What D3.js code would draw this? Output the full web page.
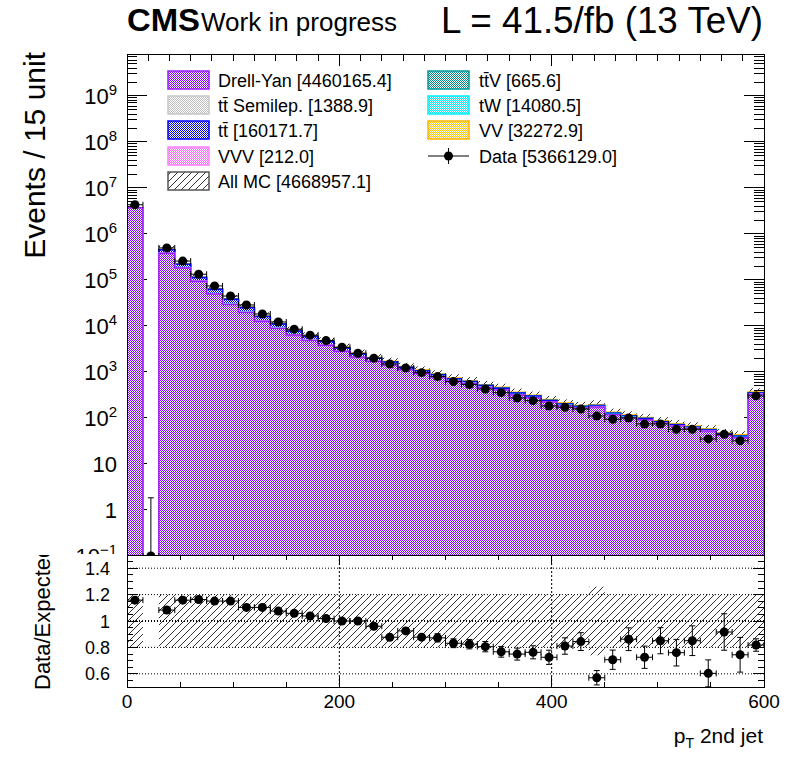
<!DOCTYPE html>
<html>
<head>
<meta charset="utf-8">
<script src="https://cdn.jsdelivr.net/npm/d3@7"></script>
<style>
body { margin: 0; background: #fff; }
text { font-family: "Liberation Sans", Arial, sans-serif; fill: #000; }
</style>
</head>
<body>
<svg id="chart" width="796" height="772"></svg>
<script>
// bin width 15, 40 bins from 0 to 600
var binWidth = 15;

// observed events per bin
var dataCounts = [4300000, 0, 496000, 257000, 133000, 74000, 44660, 28570, 18200, 12200,
  8496, 6301, 4800, 3440, 2550, 1981, 1490, 1220, 966, 792,
  617, 531, 427, 355, 272, 238, 182, 171, 157, 110,
  94, 100, 74, 74, 57, 57, 35, 44, 32, 301];
// upper poisson error for empty bins
var zeroUpErr = 1.84;

// MC yields per process per bin
var dyYield = [3691250, 0, 379490, 182185, 93382, 49741, 29129, 19555, 12617, 8792,
  6314, 4853, 3820, 2820, 2105, 1715, 1422, 1112, 938, 775,
  637, 559, 459, 404, 317, 274, 221, 185, 165, 174,
  118, 101, 91, 78, 67, 59, 52, 42, 37, 328];
var vvvYield = [30, 0, 40, 25, 18, 14, 11, 9, 7, 6,
  5, 4, 3, 3, 2, 2, 2, 1, 1, 1,
  1, 0, 0, 0, 0, 0, 0, 0, 0, 0,
  0, 0, 0, 0, 0, 0, 0, 0, 0, 2];
var ttSemiYield = [200, 0, 350, 200, 130, 90, 65, 48, 36, 27,
  21, 16, 13, 10, 8, 6, 5, 4, 3, 3,
  2, 2, 2, 1, 1, 1, 1, 1, 1, 1,
  0, 0, 0, 0, 0, 0, 0, 0, 0, 3];
var twYield = [1500, 0, 6000, 3000, 1800, 1100, 700, 450, 290, 200,
  140, 100, 75, 55, 40, 32, 26, 20, 16, 13,
  10, 8, 7, 6, 5, 4, 3, 3, 2, 2,
  2, 4, 1, 1, 1, 1, 1, 1, 1, 3];
var ttYield = [6000, 0, 65000, 33000, 17000, 12000, 8000, 5200, 3100, 2000,
  1300, 900, 650, 430, 300, 230, 180, 130, 100, 80,
  62, 50, 40, 33, 25, 20, 15, 12, 10, 9,
  7, 6, 5, 4, 3, 3, 2, 2, 2, 12];
var ttvYield = [20, 0, 120, 90, 70, 55, 45, 38, 30, 25,
  20, 17, 14, 12, 10, 8, 7, 6, 5, 4,
  4, 3, 3, 3, 2, 2, 2, 2, 1, 1,
  1, 1, 1, 1, 1, 1, 1, 1, 1, 6];
var vvYield = [14000, 0, 7000, 3500, 2000, 1300, 850, 600, 420, 300,
  230, 180, 140, 110, 85, 70, 57, 46, 38, 32,
  26, 22, 19, 16, 13, 11, 9, 8, 7, 6,
  5, 4, 4, 3, 3, 3, 2, 2, 2, 14];

// relative MC uncertainty per bin
var mcRelUnc = [0.2, 0.2, 0.2, 0.2, 0.2, 0.2, 0.2, 0.2, 0.2, 0.2,
  0.2, 0.2, 0.2, 0.2, 0.2, 0.2, 0.2, 0.2, 0.2, 0.2,
  0.2, 0.2, 0.2, 0.2, 0.2, 0.2, 0.2, 0.2, 0.2, 0.26,
  0.2, 0.2, 0.2, 0.2, 0.2, 0.2, 0.2, 0.2, 0.2, 0.2];

var legendLabels = ["Drell-Yan [4460165.4]", "tt\u0304 Semilep. [1388.9]", "tt\u0304 [160171.7]", "VVV [212.0]", "All MC [4668957.1]",
  "tt\u0304V [665.6]", "tW [14080.5]", "VV [32272.9]", "Data [5366129.0]"];
var xTickLabels = [0, 200, 400, 600];
var ratioTickLabels = [0.6, 0.8, 1, 1.2, 1.4];
var mainDecades = [-1, 0, 1, 2, 3, 4, 5, 6, 7, 8, 9];

// stack, bottom -> top
var stack = [
  {key: 'dy', vals: dyYield, fill: '#8c00ff', line: '#9a1cff'},
  {key: 'vvv', vals: vvvYield, fill: '#ff66ff', line: '#ff80ff'},
  {key: 'ttsemi', vals: ttSemiYield, fill: '#bdbdbd', line: '#c8c8c8'},
  {key: 'tw', vals: twYield, fill: '#00e8ff', line: '#00f0ff'},
  {key: 'tt', vals: ttYield, fill: '#0000e0', line: '#0000ff'},
  {key: 'ttv', vals: ttvYield, fill: '#008c8c', line: '#009a9a'},
  {key: 'vv', vals: vvYield, fill: '#ffc000', line: '#ffb400'}
];

var L = 127, R = 764, mainTop = 54, mainBot = 555, ratTop = 555, ratBot = 687;

var x = d3.scaleLinear().domain([0, 600]).range([L, R]);
var yMain = d3.scaleLog().domain([0.1, Math.pow(10, 9.91)]).range([556, mainTop]);
var yRat = d3.scaleLinear().domain([0.5, 1.5]).range([ratBot, ratTop]);
function ym(v) { return v <= 0.1 ? 560 : yMain(v); }

var bins = dataCounts.map(function(d, i) {
  var cum = 0, tops = [];
  stack.forEach(function(s) { cum += s.vals[i]; tops.push(cum); });
  return {i: i, lo: i * binWidth, hi: (i + 1) * binWidth, data: d, tops: tops, mc: cum, unc: mcRelUnc[i]};
});

var svg = d3.select('#chart');
var defs = svg.append('defs');

// 1px checker like root fill style 3xxx
function checker(id, color) {
  var p = defs.append('pattern').attr('id', id).attr('width', 2).attr('height', 2)
    .attr('patternUnits', 'userSpaceOnUse');
  p.append('rect').attr('width', 2).attr('height', 2).attr('fill', '#fff');
  p.append('rect').attr('width', 1).attr('height', 1).attr('fill', color).attr('shape-rendering', 'crispEdges');
  p.append('rect').attr('x', 1).attr('y', 1).attr('width', 1).attr('height', 1).attr('fill', color).attr('shape-rendering', 'crispEdges');
}
stack.forEach(function(s) { checker('pat-' + s.key, s.fill); });

var hatch = defs.append('pattern').attr('id', 'hatch').attr('width', 7).attr('height', 7)
  .attr('patternUnits', 'userSpaceOnUse');
hatch.append('path').attr('d', 'M0,7L7,0M-1,1L1,-1M6,8L8,6')
  .attr('stroke', '#333').attr('stroke-width', 1).attr('fill', 'none');

defs.append('clipPath').attr('id', 'mainClip').append('rect')
  .attr('x', L).attr('y', mainTop).attr('width', R - L).attr('height', mainBot - mainTop);
defs.append('clipPath').attr('id', 'ratClip').append('rect')
  .attr('x', L).attr('y', ratTop).attr('width', R - L).attr('height', ratBot - ratTop);
defs.append('clipPath').attr('id', 'mainLabClip').append('rect')
  .attr('x', 0).attr('y', 0).attr('width', L).attr('height', 554);
defs.append('clipPath').attr('id', 'ratLabClip').append('rect')
  .attr('x', 0).attr('y', ratTop).attr('width', L).attr('height', 772 - ratTop);

function drawTicks(g, list) {
  g.selectAll('line.tk').data(list).join('line').attr('class', 'tk')
    .attr('x1', function(d) { return d[0]; }).attr('y1', function(d) { return d[1]; })
    .attr('x2', function(d) { return d[2]; }).attr('y2', function(d) { return d[3]; })
    .attr('stroke', '#000').attr('stroke-width', 1).attr('shape-rendering', 'crispEdges');
}

// ---------- main pad ----------
var main = svg.append('g');

var mt = [];
for (var k = -1; k <= 9; k++) {
  for (var m = 1; m <= 9; m++) {
    var v = m * Math.pow(10, k);
    if (v > Math.pow(10, 9.91)) continue;
    var len = m == 1 ? 20 : 10;
    mt.push([L, yMain(v), L + len, yMain(v)]);
    mt.push([R, yMain(v), R - len, yMain(v)]);
  }
}
for (var xv = 0; xv <= 600; xv += 20) {
  var tl = xv % 200 == 0 ? 12 : 7;
  mt.push([x(xv), mainTop, x(xv), mainTop + tl]);
}
drawTicks(main.append('g'), mt);

var plot = main.append('g').attr('clip-path', 'url(#mainClip)');

// mc uncertainty band (only visible above the stack)
plot.append('g').selectAll('rect').data(bins.filter(function(b) { return b.mc > 0; })).join('rect')
  .attr('x', function(b) { return x(b.lo); })
  .attr('width', function(b) { return x(b.hi) - x(b.lo); })
  .attr('y', function(b) { return ym(b.mc * (1 + b.unc)); })
  .attr('height', function(b) { return ym(b.mc * (1 - b.unc)) - ym(b.mc * (1 + b.unc)); })
  .attr('fill', 'url(#hatch)');

// stacked histograms, drawn from the total down like THStack
for (var s = stack.length - 1; s >= 0; s--) {
  var layer = plot.append('g');
  layer.selectAll('rect').data(bins.filter(function(b) { return b.tops[s] > 0; })).join('rect')
    .attr('x', function(b) { return x(b.lo); })
    .attr('width', function(b) { return x(b.hi) - x(b.lo); })
    .attr('y', function(b) { return ym(b.tops[s]); })
    .attr('height', function(b) { return 560 - ym(b.tops[s]); })
    .attr('fill', 'url(#pat-' + stack[s].key + ')')
    .attr('shape-rendering', 'crispEdges');
  var pts = [[x(0), 560]];
  bins.forEach(function(b) {
    pts.push([x(b.lo), ym(b.tops[s])]);
    pts.push([x(b.hi), ym(b.tops[s])]);
  });
  pts.push([x(600), 560]);
  layer.append('path').attr('d', d3.line()(pts))
    .attr('fill', 'none').attr('stroke', stack[s].line).attr('stroke-width', 1.5);
}

// data points in main pad
var dg = plot.append('g');
bins.forEach(function(b) {
  var cx = x((b.lo + b.hi) / 2), cy = ym(b.data);
  var eUp = b.data > 0 ? Math.sqrt(b.data) : zeroUpErr;
  var eDn = b.data > 0 ? Math.sqrt(b.data) : 0;
  var yU = ym(b.data + eUp), yD = ym(b.data - eDn);
  if (b.data == 0) cy = 556;
  dg.append('line').attr('x1', x(b.lo)).attr('x2', x(b.hi)).attr('y1', cy).attr('y2', cy).attr('stroke', '#000');
  dg.append('line').attr('x1', x(b.lo)).attr('x2', x(b.lo)).attr('y1', cy - 3).attr('y2', cy + 3).attr('stroke', '#000');
  dg.append('line').attr('x1', x(b.hi)).attr('x2', x(b.hi)).attr('y1', cy - 3).attr('y2', cy + 3).attr('stroke', '#000');
  dg.append('line').attr('x1', cx).attr('x2', cx).attr('y1', yU).attr('y2', Math.min(yD, 560)).attr('stroke', '#000');
  if (cy - yU > 4) dg.append('line').attr('x1', cx - 3).attr('x2', cx + 3).attr('y1', yU).attr('y2', yU).attr('stroke', '#000');
  dg.append('circle').attr('cx', cx).attr('cy', cy).attr('r', 4.5).attr('fill', '#000');
});

main.append('rect').attr('x', L).attr('y', mainTop).attr('width', R - L).attr('height', mainBot - mainTop)
  .attr('fill', 'none').attr('stroke', '#000').attr('stroke-width', 1).attr('shape-rendering', 'crispEdges');

// main y labels
var ylab = main.append('g').attr('clip-path', 'url(#mainLabClip)');
mainDecades.forEach(function(k) {
  var t = ylab.append('text').attr('x', 117).attr('y', yMain(Math.pow(10, k)) + 8)
    .attr('text-anchor', 'end').attr('font-size', 22);
  if (k == 0) t.text('1');
  else if (k == 1) t.text('10');
  else {
    t.text('10');
    t.append('tspan').attr('dy', -9).attr('font-size', 15).text(k < 0 ? '\u2212' + (-k) : k);
  }
});

main.append('text').attr('transform', 'translate(45,52) rotate(-90)')
  .attr('text-anchor', 'end').attr('font-size', 30).text('Events / 15 unit');

// ---------- legend ----------
var leg = svg.append('g');
var legRows = [80, 105, 130, 156, 181];
var legItems = [
  {col: 0, row: 0, fill: 'url(#pat-dy)', stroke: '#9a1cff'},
  {col: 0, row: 1, fill: 'url(#pat-ttsemi)', stroke: '#c8c8c8'},
  {col: 0, row: 2, fill: 'url(#pat-tt)', stroke: '#0000ff'},
  {col: 0, row: 3, fill: 'url(#pat-vvv)', stroke: '#ff80ff'},
  {col: 0, row: 4, fill: 'url(#hatch)', stroke: '#555'},
  {col: 1, row: 0, fill: 'url(#pat-ttv)', stroke: '#009a9a'},
  {col: 1, row: 1, fill: 'url(#pat-tw)', stroke: '#00f0ff'},
  {col: 1, row: 2, fill: 'url(#pat-vv)', stroke: '#ffb400'},
  {col: 1, row: 3, data: true}
];
var boxX = [168, 428], textX = [218, 479];
legItems.forEach(function(it, i) {
  var cy = legRows[it.row], bx = boxX[it.col];
  if (it.data) {
    leg.append('line').attr('x1', bx).attr('x2', bx + 41).attr('y1', cy).attr('y2', cy).attr('stroke', '#000');
    leg.append('line').attr('x1', bx + 20.5).attr('x2', bx + 20.5).attr('y1', cy - 8).attr('y2', cy + 8).attr('stroke', '#000');
    leg.append('circle').attr('cx', bx + 20.5).attr('cy', cy).attr('r', 4.5).attr('fill', '#000');
  } else {
    leg.append('rect').attr('x', bx).attr('y', cy - 9).attr('width', 41).attr('height', 18)
      .attr('fill', it.fill).attr('stroke', it.stroke).attr('stroke-width', 1.5);
  }
  leg.append('text').attr('x', textX[it.col]).attr('y', cy + 6.5).attr('font-size', 18).text(legendLabels[i]);
});

// ---------- header ----------
svg.append('text').attr('x', 127).attr('y', 31).attr('font-size', 31).attr('font-weight', 'bold')
  .attr('textLength', 73).attr('lengthAdjust', 'spacingAndGlyphs').text('CMS');
svg.append('text').attr('x', 201).attr('y', 31).attr('font-size', 26).text('Work in progress');
svg.append('text').attr('x', 441).attr('y', 33).attr('font-size', 36)
  .attr('textLength', 322).attr('lengthAdjust', 'spacingAndGlyphs').text('L = 41.5/fb (13 TeV)');

// ---------- ratio pad ----------
var rat = svg.append('g');
rat.append('rect').attr('x', 0).attr('y', ratTop).attr('width', 796).attr('height', 772 - ratTop).attr('fill', '#fff');

var rplot = rat.append('g').attr('clip-path', 'url(#ratClip)');
[0.6, 0.8, 1.2, 1.4].forEach(function(v) {
  rplot.append('line').attr('x1', L).attr('x2', R).attr('y1', yRat(v)).attr('y2', yRat(v))
    .attr('stroke', '#000').attr('stroke-width', 1).attr('stroke-dasharray', '1,2');
});
rplot.append('line').attr('x1', L).attr('x2', R).attr('y1', yRat(1)).attr('y2', yRat(1))
  .attr('stroke', '#000').attr('stroke-width', 2).attr('stroke-dasharray', '1,2');
[200, 400].forEach(function(v) {
  rplot.append('line').attr('x1', x(v)).attr('x2', x(v)).attr('y1', ratTop).attr('y2', ratBot)
    .attr('stroke', '#000').attr('stroke-width', 1).attr('stroke-dasharray', '2,2');
});

rplot.append('g').selectAll('rect').data(bins.filter(function(b) { return b.mc > 0; })).join('rect')
  .attr('x', function(b) { return x(b.lo); })
  .attr('width', function(b) { return x(b.hi) - x(b.lo); })
  .attr('y', function(b) { return yRat(1 + b.unc); })
  .attr('height', function(b) { return yRat(1 - b.unc) - yRat(1 + b.unc); })
  .attr('fill', 'url(#hatch)');

var rg = rplot.append('g');
bins.filter(function(b) { return b.mc > 0 && b.data > 0; }).forEach(function(b) {
  var r = b.data / b.mc, er = Math.sqrt(b.data) / b.mc;
  var cx = x((b.lo + b.hi) / 2), cy = yRat(r);
  rg.append('line').attr('x1', x(b.lo)).attr('x2', x(b.hi)).attr('y1', cy).attr('y2', cy).attr('stroke', '#000');
  rg.append('line').attr('x1', x(b.lo)).attr('x2', x(b.lo)).attr('y1', cy - 3).attr('y2', cy + 3).attr('stroke', '#000');
  rg.append('line').attr('x1', x(b.hi)).attr('x2', x(b.hi)).attr('y1', cy - 3).attr('y2', cy + 3).attr('stroke', '#000');
  var yU = yRat(r + er), yD = yRat(r - er);
  rg.append('line').attr('x1', cx).attr('x2', cx).attr('y1', yU).attr('y2', yD).attr('stroke', '#000');
  if (cy - yU > 4) {
    rg.append('line').attr('x1', cx - 3).attr('x2', cx + 3).attr('y1', yU).attr('y2', yU).attr('stroke', '#000');
    rg.append('line').attr('x1', cx - 3).attr('x2', cx + 3).attr('y1', yD).attr('y2', yD).attr('stroke', '#000');
  }
  rg.append('circle').attr('cx', cx).attr('cy', cy).attr('r', 4.5).attr('fill', '#000');
});

var rt = [];
for (var xv2 = 0; xv2 <= 600; xv2 += 50) {
  var l2 = xv2 % 200 == 0 ? 10 : 5;
  rt.push([x(xv2), ratBot, x(xv2), ratBot - l2]);
  rt.push([x(xv2), ratTop, x(xv2), ratTop + l2]);
}
for (var j = 10; j <= 30; j++) {
  var yv = yRat(j * 0.05), l3 = j % 4 == 0 ? 11 : 6;
  rt.push([L, yv, L + l3, yv]);
  rt.push([R, yv, R - l3, yv]);
}
drawTicks(rat.append('g'), rt);

rat.append('rect').attr('x', L).attr('y', ratTop).attr('width', R - L).attr('height', ratBot - ratTop)
  .attr('fill', 'none').attr('stroke', '#000').attr('stroke-width', 1).attr('shape-rendering', 'crispEdges');

ratioTickLabels.forEach(function(v) {
  rat.append('text').attr('x', 110).attr('y', yRat(v) + 6.5).attr('text-anchor', 'end')
    .attr('font-size', 18).text(v);
});
xTickLabels.forEach(function(v) {
  rat.append('text').attr('x', x(v)).attr('y', 708).attr('text-anchor', 'middle')
    .attr('font-size', 19).text(v);
});

rat.append('g').attr('clip-path', 'url(#ratLabClip)').append('text')
  .attr('transform', 'translate(50,690) rotate(-90)').attr('font-size', 22).text('Data/Expected');

var xt = rat.append('text').attr('x', 763).attr('y', 743).attr('text-anchor', 'end').attr('font-size', 21);
xt.append('tspan').text('p');
xt.append('tspan').attr('font-size', 14).attr('dy', 5).text('T');
xt.append('tspan').attr('dy', -5).text(' 2nd jet');
</script>
</body>
</html>
